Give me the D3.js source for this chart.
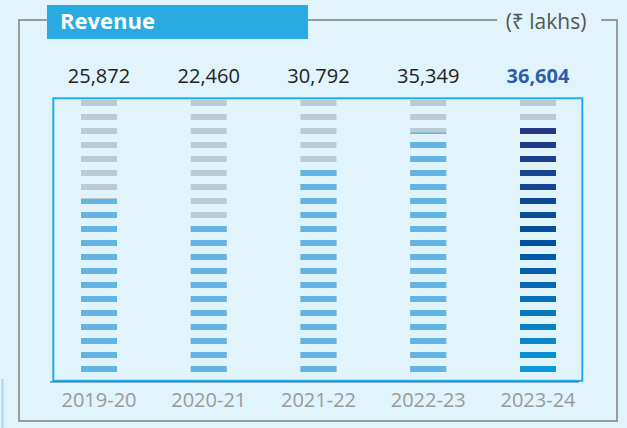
<!DOCTYPE html>
<html><head><meta charset="utf-8">
<script src="https://cdn.jsdelivr.net/npm/d3@7"></script>
<style>
html,body{margin:0;padding:0;background:#e1f3fb;}
svg{display:block;}
text{font-family:"Open Sans","Noto Sans","DejaVu Sans",sans-serif;}
</style></head>
<body>
<svg id="chart" width="627" height="428"></svg>
<script>
const categories = ["2019-20","2020-21","2021-22","2022-23","2023-24"];
const values = [25872, 22460, 30792, 35349, 36604];
const valueLabels = ["25,872","22,460","30,792","35,349","36,604"];
const title = "Revenue";
const unitLabel = "(₹ lakhs)";
const yMax = 40000;
const rowStep = 2000;

const svg = d3.select("#chart");
const W = 627, H = 428;

svg.append("rect").attr("width",W).attr("height",H).attr("fill","#e1f3fb");

// outer frame
svg.append("path")
  .attr("d","M47,20 H19 V421 H617 V20 H601 M308,20 H497")
  .attr("fill","none").attr("stroke","#9a9a9a").attr("stroke-width",2);
svg.append("line").attr("x1",2.5).attr("x2",2.5).attr("y1",379).attr("y2",428)
  .attr("stroke","#a9d6f1").attr("stroke-width",2);

// title box
svg.append("rect").attr("x",47).attr("y",5).attr("width",261).attr("height",34).attr("fill","#29abe2");
svg.append("text").attr("x",60).attr("y",29).text(title)
  .attr("fill","#fff").attr("font-size",22).attr("font-weight",700);
svg.append("text").attr("x",546).attr("y",29).attr("text-anchor","middle").text(unitLabel)
  .attr("fill","#555").attr("font-size",21);

// scales
const x = d3.scalePoint().domain(categories).range([99, 538]);
const y = d3.scaleLinear().domain([0, yMax]).range([380, 100]);
const dashW = 36, dashH = 6;
const rowTops = d3.range(yMax, 0, -rowStep); // top value of each row

// inner box
svg.append("rect").attr("x",53.3).attr("y",98.3).attr("width",529).attr("height",282.5)
  .attr("fill","none").attr("stroke","#1cb1ec").attr("stroke-width",2);
svg.append("line").attr("x1",50).attr("x2",579).attr("y1",381.8).attr("y2",381.8)
  .attr("stroke","#3f6fb0").attr("stroke-width",1.3);

const defs = svg.append("defs");
const gradColor = d3.scaleLinear().domain([4000, 20000, 36000])
  .range(["#0a8fd1","#00529c","#253886"]).interpolate(d3.interpolateRgb);

categories.forEach((c, i) => {
  const cx = x(c);
  const g = svg.append("g");
  g.selectAll("rect.bg").data(rowTops).join("rect").attr("class","bg")
    .attr("x", cx - dashW/2).attr("y", d => y(d)).attr("width", dashW).attr("height", dashH)
    .attr("fill", "#b9cbd3");
  const id = "clip" + i;
  defs.append("clipPath").attr("id", id).append("rect")
    .attr("x", cx - dashW/2 - 2).attr("width", dashW + 4)
    .attr("y", y(values[i])).attr("height", y(0) - y(values[i]));
  const last = i === categories.length - 1;
  g.append("g").attr("clip-path", `url(#${id})`)
    .selectAll("rect").data(rowTops).join("rect")
    .attr("x", cx - dashW/2).attr("y", d => y(d)).attr("width", dashW).attr("height", dashH)
    .attr("fill", d => last ? gradColor(d) : "#63b3e5");

  svg.append("text").attr("x", cx).attr("y", 83).attr("text-anchor","middle")
    .text(valueLabels[i])
    .attr("font-size", 20)
    .attr("font-weight", last ? 700 : 400)
    .attr("fill", last ? "#2e5eaa" : "#222");
  svg.append("text").attr("x", cx).attr("y", 407).attr("text-anchor","middle")
    .text(c).attr("font-size", 20).attr("fill", "#9a9a9a");
});
</script>
</body></html>
